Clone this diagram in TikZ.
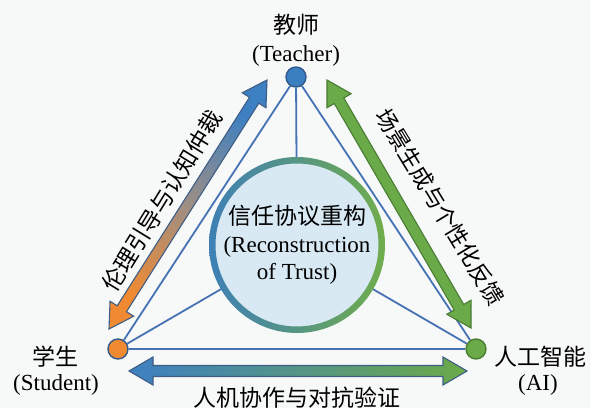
\documentclass[tikz,border=0pt]{standalone}
\usepackage{fontspec}
\setmainfont{Liberation Serif}
\newfontfamily\cjk{Noto Sans CJK SC}
\usetikzlibrary{calc}
\definecolor{bgc}{HTML}{F7F8F8}
\definecolor{tblue}{HTML}{3D80C2}
\definecolor{tblueD}{HTML}{2B5C92}
\definecolor{linec}{HTML}{4672B3}
\definecolor{orangeF}{HTML}{EF8A32}
\definecolor{greenF}{HTML}{6BAA48}
\definecolor{greenD}{HTML}{4A7D35}
\definecolor{vout}{HTML}{2F5A8A}
\definecolor{midtan}{HTML}{9E8E84}
\definecolor{ringblue}{HTML}{3E7FB6}
\definecolor{ringgreen}{HTML}{70AD4C}
\definecolor{fillc}{HTML}{D8E9F4}
\definecolor{lout}{HTML}{3F5E86}
\newcommand\dblarr[3][]{%
  \path[#1] (#2)
   -- ($(#2)!24pt!(#3)!14pt!90:(#3)$)
   -- ($(#2)!24pt!(#3)!5.5pt!90:(#3)$)
   -- ($(#3)!24pt!(#2)!5.5pt!-90:(#2)$)
   -- ($(#3)!24pt!(#2)!14pt!-90:(#2)$)
   -- (#3)
   -- ($(#3)!24pt!(#2)!14pt!90:(#2)$)
   -- ($(#3)!24pt!(#2)!5.5pt!90:(#2)$)
   -- ($(#2)!24pt!(#3)!5.5pt!-90:(#3)$)
   -- ($(#2)!24pt!(#3)!14pt!-90:(#3)$)
   -- cycle;}
\begin{document}
\begin{tikzpicture}[x=1pt,y=-1pt,
  edge/.style={draw=linec, line width=1.8pt},
  vert/.style={circle, minimum size=20pt, inner sep=0pt, line width=1.4pt, draw=vout},
  lab/.style={font=\fontsize{23pt}{26pt}\selectfont, inner sep=0pt},
  clab/.style={font=\fontsize{23pt}{26pt}\selectfont\cjk, inner sep=0pt},
  fatarrow/.style={line width=1.1pt, line join=miter}]
\useasboundingbox[fill=bgc] (0,0) rectangle (590,408);
% vertices
\node[vert, fill=tblue] (T) at (296,77) {};
\node[vert, fill=orangeF] (S) at (118,349) {};
\node[vert, fill=greenF, draw=greenD] (A) at (476,349) {};
\coordinate (C) at (297,245);
% thin edges
\draw[edge] (T) -- (S);
\draw[edge] (T) -- (A);
\draw[edge] (S) -- (A);
\draw[edge] (T) -- (C);
\draw[edge] (S) -- (C);
\draw[edge] (A) -- (C);
% central circle
\fill[fillc] (C) circle (84pt);
\shade[even odd rule, left color=ringblue, right color=ringgreen] (C) circle (88pt) (C) circle (81.5pt);
% fat arrows
\coordinate (L1) at (109,329); \coordinate (L2) at (267,80);
\coordinate (R1) at (327,80); \coordinate (R2) at (471,328);
\coordinate (B1) at (129,371); \coordinate (B2) at (467,371);
\dblarr[fatarrow, top color=tblue, bottom color=orangeF, middle color=midtan, shading angle=-32, draw=lout]{L1}{L2}
\dblarr[fatarrow, fill=greenF, draw=greenD]{R1}{R2}
\dblarr[fatarrow, left color=tblue, right color=greenF, draw=lout]{B1}{B2}
% labels
\node[clab] (tcn) at (296,25) {教师};
\node[lab] (ten) at (296,56) {(Teacher)};
\node[clab] (scn) at (55,357) {学生};
\node[lab] (sen) at (56,385) {(Student)};
\node[clab] (acn) at (540,357) {人工智能};
\node[lab] (aen) at (538,385) {(AI)};
\node[clab] (c1) at (297,216) {信任协议重构};
\node[lab] (c2) at (297,247) {(Reconstruction};
\node[lab] (c3) at (297,274) {of Trust)};
\node[clab, rotate=58.5] (ll) at (162,201) {伦理引导与认知仲裁};
\node[clab, rotate=-58.7, font=\fontsize{22.5pt}{26pt}\selectfont\cjk] (rl) at (440,207) {场景生成与个性化反馈};
\node[clab] (bl) at (297,398) {人机协作与对抗验证};
\end{tikzpicture}
\end{document}
